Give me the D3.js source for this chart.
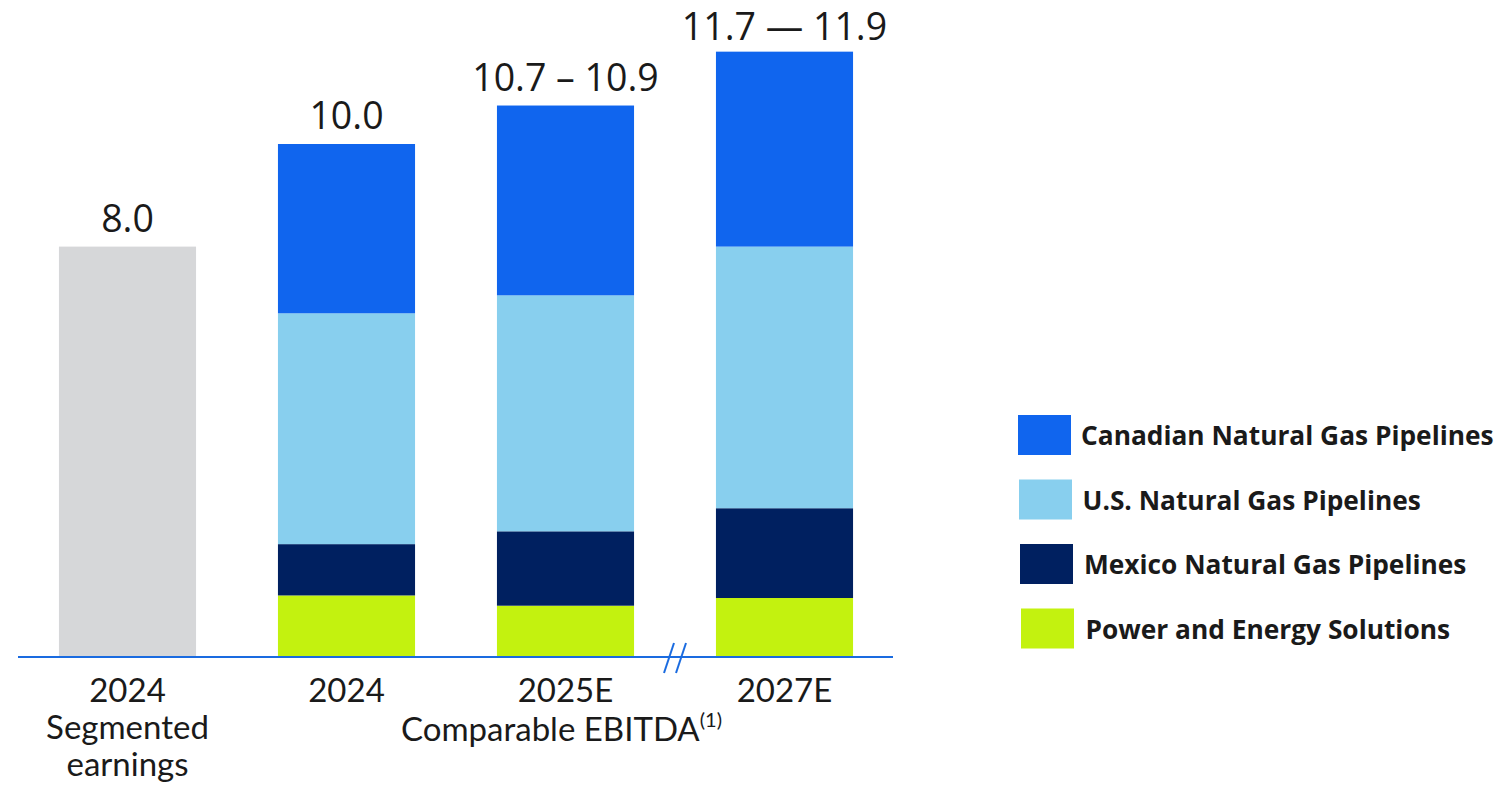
<!DOCTYPE html>
<html>
<head>
<meta charset="utf-8">
<script src="https://cdn.jsdelivr.net/npm/d3@7/dist/d3.min.js"></script>
<style>
  html, body { margin: 0; padding: 0; background: #fff; }
  svg { display: block; font-family: Lato, "Open Sans", sans-serif; }
</style>
</head>
<body>
<svg id="chart" width="1506" height="789"></svg>
<script>
// Categories along the x axis
const categories = ["seg2024", "2024", "2025E", "2027E"];
const categoryLabels = [["2024", "Segmented", "earnings"], ["2024"], ["2025E"], ["2027E"]];
// Total labels above bars
const totalLabels = ["8.0", "10.0", "10.7 \u2013 10.9", "11.7 \u2014 11.9"];

// Segmented earnings (single grey bar)
const segmentedEarnings = [8.0];

// Comparable EBITDA by segment ($ billions), stacked bottom to top
const seriesNames = [
  "Power and Energy Solutions",
  "Mexico Natural Gas Pipelines",
  "U.S. Natural Gas Pipelines",
  "Canadian Natural Gas Pipelines"
];
const ebitdaCategories = ["2024", "2025E", "2027E"];
const powerValues   = [1.2, 1.0, 1.15];
const mexicoValues  = [1.0, 1.45, 1.75];
const usValues      = [4.5, 4.6, 5.1];
const canadaValues  = [3.3, 3.7, 3.8];

const colors = {
  "Canadian Natural Gas Pipelines": "#1065ee",
  "U.S. Natural Gas Pipelines": "#88cfee",
  "Mexico Natural Gas Pipelines": "#002060",
  "Power and Energy Solutions": "#c3f20f"
};
const greyColor = "#d6d7d9";
const axisColor = "#1a6be0";
const legendOrder = [
  "Canadian Natural Gas Pipelines",
  "U.S. Natural Gas Pipelines",
  "Mexico Natural Gas Pipelines",
  "Power and Energy Solutions"
];

const svg = d3.select("#chart");
const baseY = 657;

const x = d3.scaleBand()
  .domain(categories)
  .range([18, 894])
  .paddingInner(0.374)
  .paddingOuter(0.187);

const y = d3.scaleLinear().domain([0, 12]).range([baseY, baseY - 12 * 51.3]);

// Build stack table
const rows = ebitdaCategories.map((c, i) => ({
  cat: c,
  "Power and Energy Solutions": powerValues[i],
  "Mexico Natural Gas Pipelines": mexicoValues[i],
  "U.S. Natural Gas Pipelines": usValues[i],
  "Canadian Natural Gas Pipelines": canadaValues[i]
}));
const stack = d3.stack().keys(seriesNames)(rows);

// Grey segmented-earnings bar
svg.append("rect")
  .attr("x", x("seg2024"))
  .attr("width", x.bandwidth())
  .attr("y", y(segmentedEarnings[0]))
  .attr("height", y(0) - y(segmentedEarnings[0]))
  .attr("fill", greyColor);

// Stacked EBITDA bars
svg.append("g").selectAll("g")
  .data(stack)
  .join("g")
  .attr("fill", d => colors[d.key])
  .selectAll("rect")
  .data(d => d)
  .join("rect")
  .attr("x", d => x(d.data.cat))
  .attr("width", x.bandwidth())
  .attr("y", d => y(d[1]))
  .attr("height", d => y(d[0]) - y(d[1]));

// Totals above bars (kept inside the top edge of the drawing)
const totals = [segmentedEarnings[0]].concat(rows.map(r => seriesNames.reduce((s, k) => s + r[k], 0)));
svg.append("g").selectAll("text")
  .data(categories)
  .join("text")
  .attr("x", d => x(d) + x.bandwidth() / 2)
  .attr("y", (d, i) => Math.max(y(totals[i]) - 15, 40))
  .attr("text-anchor", "middle")
  .attr("font-family", "'Open Sans', sans-serif")
  .attr("font-size", 37.5)
  .attr("fill", "#1a1a1a")
  .text((d, i) => totalLabels[i]);

// Baseline axis
svg.append("line")
  .attr("x1", 18).attr("x2", 893)
  .attr("y1", baseY).attr("y2", baseY)
  .attr("stroke", axisColor).attr("stroke-width", 2);

// Axis break marks between 2025E and 2027E
const breakX = (x("2025E") + x.bandwidth() + x("2027E")) / 2;
[-6, 6].forEach(off => {
  svg.append("line")
    .attr("x1", breakX + off - 5).attr("y1", baseY + 16)
    .attr("x2", breakX + off + 5).attr("y2", baseY - 14)
    .attr("stroke", axisColor).attr("stroke-width", 2);
});

// Category labels
const lab = svg.append("g").attr("font-size", 33).attr("fill", "#1a1a1a").attr("text-anchor", "middle");
categories.forEach((c, i) => {
  const t = lab.append("text")
    .attr("x", x(c) + x.bandwidth() / 2)
    .attr("y", 702);
  categoryLabels[i].forEach((line, j) => {
    t.append("tspan")
      .attr("x", x(c) + x.bandwidth() / 2)
      .attr("dy", j === 0 ? 0 : 37)
      .text(line);
  });
});

// Group label for comparable EBITDA
const grp = svg.append("text")
  .attr("x", (x("2024") + x("2027E") + x.bandwidth()) / 2 - 4)
  .attr("y", 741)
  .attr("text-anchor", "middle")
  .attr("font-size", 33)
  .attr("fill", "#1a1a1a");
grp.append("tspan").text("Comparable EBITDA");
grp.append("tspan").attr("font-size", 20).attr("dy", -14).text("(1)");

// Legend
const legend = svg.append("g");
legendOrder.forEach((name, i) => {
  const gy = 415 + i * 64.5;
  legend.append("rect")
    .attr("x", 1018 + i).attr("y", gy)
    .attr("width", 53).attr("height", 40)
    .attr("fill", colors[name]);
  legend.append("text")
    .attr("x", 1081 + i * 1.5).attr("y", gy + 30)
    .attr("font-family", "'Open Sans', sans-serif")
    .attr("font-size", 26.3)
    .attr("font-weight", "bold")
    .attr("fill", "#1a1a1a")
    .text(name);
});
</script>
</body>
</html>
